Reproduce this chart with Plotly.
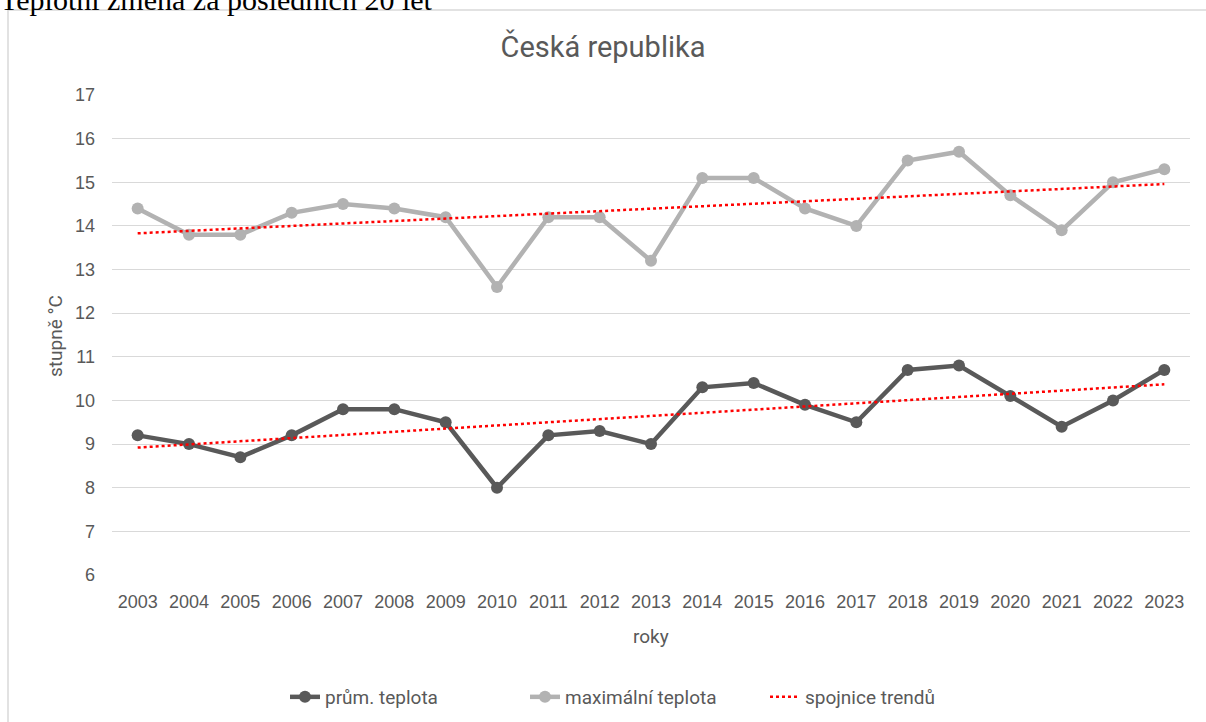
import plotly.graph_objects as go

years = [2003, 2004, 2005, 2006, 2007, 2008, 2009, 2010, 2011, 2012, 2013,
         2014, 2015, 2016, 2017, 2018, 2019, 2020, 2021, 2022, 2023]
avg_temp = [9.2, 9.0, 8.7, 9.2, 9.8, 9.8, 9.5, 8.0, 9.2, 9.3, 9.0,
            10.3, 10.4, 9.9, 9.5, 10.7, 10.8, 10.1, 9.4, 10.0, 10.7]
max_temp = [14.4, 13.8, 13.8, 14.3, 14.5, 14.4, 14.2, 12.6, 14.2, 14.2, 13.2,
            15.1, 15.1, 14.4, 14.0, 15.5, 15.7, 14.7, 13.9, 15.0, 15.3]
trend_years = [2003, 2023]
trend_avg = [8.92, 10.37]
trend_max = [13.83, 14.96]
y_ticks = [6, 7, 8, 9, 10, 11, 12, 13, 14, 15, 16, 17]

DARK = "#595959"
LIGHT = "#b2b2b2"
RED = "#ff0000"
TXT = "#595959"

L, R, T, B = 112, 16, 95, 147
PW, PH = 1206 - L - R, 722 - T - B


def px_x(p):
    return (p - L) / PW


def px_y(p):
    return (722 - B - p) / PH


fig = go.Figure()
fig.add_trace(go.Scatter(x=years, y=avg_temp, mode="lines+markers", name="prům. teplota",
                         line=dict(color=DARK, width=4.5), marker=dict(size=12, color=DARK)))
fig.add_trace(go.Scatter(x=years, y=max_temp, mode="lines+markers", name="maximální teplota",
                         line=dict(color=LIGHT, width=4.5), marker=dict(size=12, color=LIGHT)))
fig.add_trace(go.Scatter(x=trend_years, y=trend_max, mode="lines", name="spojnice trendů",
                         line=dict(color=RED, width=2.5, dash="dot"), showlegend=False))
fig.add_trace(go.Scatter(x=trend_years, y=trend_avg, mode="lines", name="spojnice trendů",
                         line=dict(color=RED, width=2.5, dash="dot")))

fig.update_layout(
    width=1206, height=722,
    margin=dict(l=L, r=R, t=T, b=B, autoexpand=False),
    paper_bgcolor="white", plot_bgcolor="white",
    font=dict(family="Roboto, Liberation Sans, Arial", color=TXT, size=14),
    title=dict(text="Česká republika", x=0.5, xanchor="center", y=1 - 47 / 722, yanchor="middle",
               font=dict(size=29, color=TXT, family="Roboto, Liberation Sans")),
    xaxis=dict(range=[2002.5, 2023.5], tickmode="array", tickvals=years,
               ticktext=[str(y) for y in years], showgrid=False, zeroline=False,
               showline=False, ticks="", automargin=False, ticklabelstandoff=14,
               tickfont=dict(family="Liberation Sans, Arial", size=18, color=TXT)),
    yaxis=dict(range=[6, 17], tickmode="array", tickvals=y_ticks, showgrid=True,
               gridcolor="#d9d9d9", gridwidth=1.3, zeroline=False, showline=False, ticks="",
               automargin=False, ticklabelstandoff=16,
               tickfont=dict(family="Liberation Sans, Arial", size=18, color=TXT)),
    legend=dict(orientation="h", x=px_x(285), xanchor="left", y=px_y(697), yanchor="middle",
                font=dict(size=19, color=TXT), tracegroupgap=0, entrywidth=195),
    showlegend=True,
)

# axis titles
fig.add_annotation(text="roky", xref="paper", yref="paper", x=0.5, y=px_y(636),
                   xanchor="center", yanchor="middle", showarrow=False,
                   font=dict(size=19, color=TXT))
fig.add_annotation(text="stupně °C", xref="paper", yref="paper", x=px_x(55), y=px_y(336),
                   xanchor="center", yanchor="middle", showarrow=False, textangle=-90,
                   font=dict(size=19, color=TXT))

# outer chart frame
fig.add_shape(type="rect", xref="paper", yref="paper",
              x0=px_x(8), x1=px_x(1260), y0=px_y(780), y1=px_y(10),
              line=dict(color="#d9d9d9", width=1.5), fillcolor="rgba(0,0,0,0)", layer="below")

# heading above the chart (cut off at the top, as in the source)
fig.add_annotation(text="Teplotní změna za posledních 20 let", xref="paper", yref="paper",
                   x=px_x(-2), y=px_y(-1), xanchor="left", yanchor="middle",
                   showarrow=False,
                   font=dict(family="Liberation Serif, Times New Roman", size=30, color="black"))

fig.write_html("out.html", config={"displayModeBar": False},
               post_script="document.body.style.margin='0';")
